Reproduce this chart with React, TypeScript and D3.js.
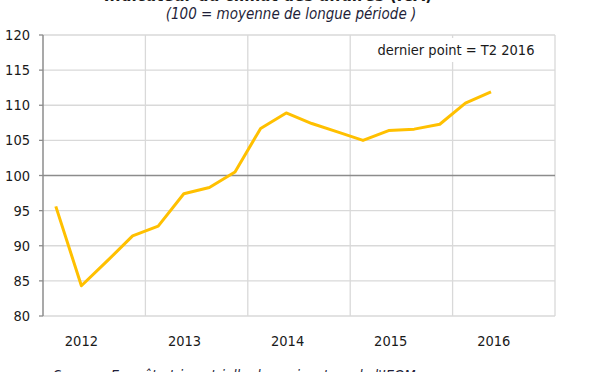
import React from "react";
import * as d3 from "d3";

const quarters = [
  "T1 2012", "T2 2012", "T3 2012", "T4 2012",
  "T1 2013", "T2 2013", "T3 2013", "T4 2013",
  "T1 2014", "T2 2014", "T3 2014", "T4 2014",
  "T1 2015", "T2 2015", "T3 2015", "T4 2015",
  "T1 2016", "T2 2016", "T3 2016", "T4 2016",
];
const values = [
  95.6, 84.3, 87.8, 91.4,
  92.8, 97.4, 98.3, 100.5,
  106.7, 108.9, 107.4, 106.2,
  105.0, 106.4, 106.6, 107.3,
  110.3, 111.9,
];
const years = ["2012", "2013", "2014", "2015", "2016"];
const yTicks = [80, 85, 90, 95, 100, 105, 110, 115, 120];

const W = 600;
const H = 372;
const left = 43;
const right = 555;
const top = 35;
const bottom = 316;
const FONT = "'DejaVu Sans Condensed', 'Liberation Sans', sans-serif";

export default function App() {
  const band = d3.scaleBand<string>().domain(years).range([left, right]);
  const x = d3.scaleBand<string>().domain(quarters).range([left, right]);
  const xc = (i: number) => x(quarters[i])! + x.bandwidth() / 2;
  const y = d3.scaleLinear().domain([80, 120]).range([bottom, top]);
  const line = d3.line<number>().x((_, i) => xc(i)).y((d) => y(d));

  return (
    <svg width={W} height={H} style={{ position: "absolute", left: 0, top: 0, background: "#fff" }}>
      <text x={268} y={0.5} textAnchor="middle" fontFamily={FONT} fontWeight="bold" fontSize={17} fill="#1a1a1a">
        Indicateur du climat des affaires (ICA)
      </text>
      <text x={291} y={19} textAnchor="middle" fontFamily={FONT} fontStyle="italic" fontSize={15} fill="#1f1f3a">
        (100 = moyenne de longue période )
      </text>
      {yTicks.filter((t) => t !== 80 && t !== 100).map((t) => (
        <line key={t} x1={left} x2={right} y1={y(t)} y2={y(t)} stroke="#d9d9d9" strokeWidth={1.3} />
      ))}
      {years.map((yr) => (
        <line key={yr} x1={band(yr)! + band.bandwidth()} x2={band(yr)! + band.bandwidth()} y1={top} y2={bottom} stroke="#d9d9d9" strokeWidth={1.3} />
      ))}
      <line x1={left} x2={right} y1={y(80)} y2={y(80)} stroke="#d9d9d9" strokeWidth={1.3} />
      <line x1={left} x2={right} y1={y(100)} y2={y(100)} stroke="#8c8c8c" strokeWidth={1.5} />
      <line x1={left} x2={left} y1={top} y2={bottom} stroke="#8c8c8c" strokeWidth={1.5} />
      {yTicks.map((t) => (
        <g key={t}>
          <line x1={left - 4} x2={left} y1={y(t)} y2={y(t)} stroke="#8c8c8c" strokeWidth={1.3} />
          <text x={30} y={y(t)} dy="0.35em" textAnchor="end" fontFamily={FONT} fontSize={14.5} fill="#1a1a1a">
            {t}
          </text>
        </g>
      ))}
      {years.map((yr, i) => (
        <text key={yr} x={xc(i * 4 + 1) + i * 0.7} y={346} textAnchor="middle" fontFamily={FONT} fontSize={14.5} fill="#1a1a1a">
          {yr}
        </text>
      ))}
      <path d={line(values)!} fill="none" stroke="#FFC000" strokeWidth={3} strokeLinejoin="round" />
      <rect x={372} y={38} width={170} height={24} fill="#fff" />
      <text x={456} y={50} dy="0.35em" textAnchor="middle" fontFamily={FONT} fontSize={14.5} fill="#1a1a1a">
        dernier point  = T2  2016
      </text>
      <text x={53} y={380} fontFamily={FONT} fontStyle="italic" fontSize={14.5} fill="#1f1f3a">
        Source : Enquête trimestrielle de conjoncture de l'IEOM
      </text>
    </svg>
  );
}
